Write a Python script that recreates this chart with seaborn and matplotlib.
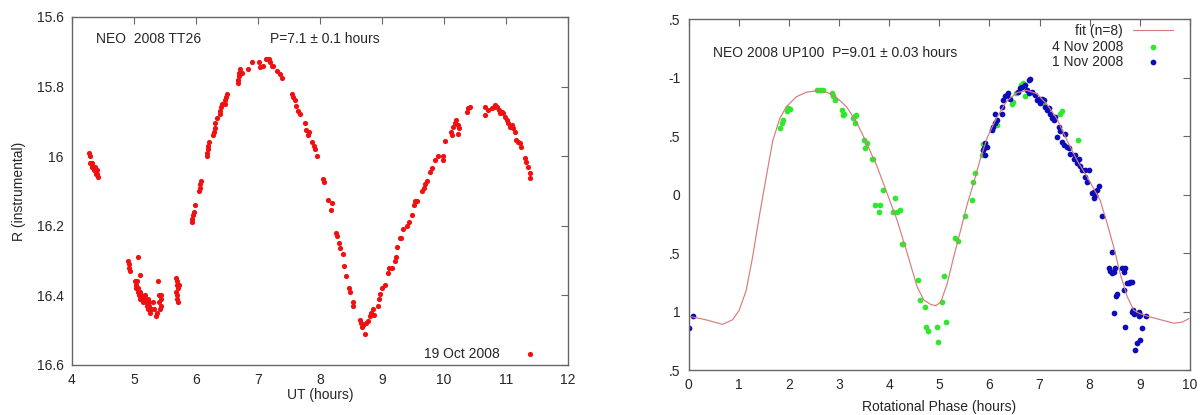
import matplotlib
matplotlib.use("Agg")
import matplotlib.pyplot as plt
import seaborn as sns

# ---------------------------------------------------------------
# NEO 2008 TT26 : instrumental R magnitude vs. UT, 19 Oct 2008
# ---------------------------------------------------------------
tt26_ut = [
    4.28, 4.29, 4.29, 4.31, 4.32, 4.33, 4.34, 4.32, 4.36, 4.37, 4.38, 4.40, 4.41, 4.42,
    4.91, 4.92, 4.92, 4.93, 5.07, 5.10, 5.02, 5.03, 5.04, 5.05, 5.06, 5.07, 5.08, 5.09,
    5.10, 5.12, 5.14, 5.15, 5.17, 5.18, 5.19, 5.21, 5.22, 5.23, 5.24, 5.25, 5.26, 5.28,
    5.30, 5.32, 5.35, 5.37, 5.39, 5.40, 5.41, 5.42, 5.43, 5.44, 5.44,
    5.68, 5.69, 5.70, 5.71, 5.68, 5.69, 5.70, 5.71, 5.72,
    5.93, 5.94, 5.95, 5.96, 5.99, 6.05, 6.06, 6.07, 6.08, 6.17, 6.18, 6.19, 6.20, 6.21,
    6.28, 6.29, 6.30, 6.31, 6.34, 6.38, 6.39, 6.40, 6.42, 6.46, 6.47, 6.49, 6.50,
    6.67, 6.68, 6.69, 6.70, 6.71, 6.73, 6.75, 6.84, 6.90, 7.01, 7.03, 7.08, 7.13, 7.15,
    7.17, 7.19, 7.22, 7.25, 7.30, 7.35, 7.38,
    7.55, 7.57, 7.59, 7.62, 7.65, 7.68, 7.76, 7.78, 7.81, 7.83, 7.87, 7.90, 7.92, 7.95,
    8.05, 8.06, 8.13, 8.17, 8.19, 8.26, 8.27, 8.31, 8.33, 8.37, 8.38, 8.42, 8.47, 8.48,
    8.53, 8.54, 8.64, 8.66, 8.67, 8.69, 8.72, 8.74, 8.78, 8.81, 8.83, 8.86, 8.87, 8.94,
    8.96, 8.97, 9.00, 9.05, 9.09, 9.12, 9.16, 9.21, 9.23, 9.24, 9.29, 9.31, 9.34, 9.40,
    9.44, 9.48, 9.51, 9.53, 9.56, 9.64, 9.67, 9.69, 9.72, 9.77, 9.80, 9.85, 9.91, 9.99,
    9.99, 10.02, 10.12, 10.13, 10.15, 10.18, 10.20, 10.22, 10.23, 10.24, 10.37, 10.39,
    10.42, 10.66, 10.66, 10.71, 10.78, 10.80, 10.82, 10.85, 10.88, 10.90, 10.93, 10.96,
    10.98, 11.01, 11.04, 11.06, 11.09, 11.12, 11.15, 11.17, 11.20, 11.23, 11.25, 11.31,
    11.33, 11.36, 11.38, 11.39,
]
tt26_r = [
    15.99, 16.00, 16.02, 16.02, 16.02, 16.03, 16.03, 16.03, 16.04, 16.03, 16.05, 16.04, 16.05, 16.06,
    16.30, 16.31, 16.32, 16.33, 16.29, 16.34, 16.36, 16.37, 16.38, 16.36, 16.39, 16.38, 16.40, 16.39,
    16.41, 16.40, 16.41, 16.42, 16.40, 16.41, 16.42, 16.43, 16.41, 16.44, 16.42, 16.43, 16.45, 16.44,
    16.42, 16.44, 16.46, 16.45, 16.36, 16.42, 16.40, 16.44, 16.41, 16.43, 16.40,
    16.35, 16.36, 16.37, 16.38, 16.39, 16.40, 16.41, 16.42, 16.37,
    16.19, 16.18, 16.17, 16.16, 16.14, 16.10, 16.09, 16.08, 16.07, 16.00, 15.99, 15.98, 15.97, 15.96,
    15.94, 15.93, 15.92, 15.905, 15.89, 15.88, 15.87, 15.86, 15.85, 15.85, 15.84, 15.83, 15.82,
    15.79, 15.78, 15.77, 15.76, 15.75, 15.76, 15.76, 15.75, 15.73, 15.73, 15.745, 15.74, 15.72, 15.72,
    15.72, 15.73, 15.74, 15.74, 15.755, 15.765, 15.775,
    15.82, 15.83, 15.84, 15.855, 15.87, 15.88, 15.905, 15.925, 15.94, 15.93, 15.96, 15.97, 15.98, 16.00,
    16.065, 16.075, 16.125, 16.155, 16.135, 16.22, 16.23, 16.25, 16.265, 16.28, 16.315, 16.345, 16.38, 16.39,
    16.42, 16.43, 16.47, 16.48, 16.49, 16.485, 16.51, 16.48, 16.475, 16.46, 16.45, 16.44, 16.455, 16.43,
    16.41, 16.395, 16.38, 16.37, 16.335, 16.32, 16.32, 16.30, 16.29, 16.26, 16.235, 16.235, 16.21, 16.20,
    16.19, 16.17, 16.14, 16.13, 16.13, 16.10, 16.09, 16.08, 16.07, 16.045, 16.035, 16.01, 16.00, 16.00,
    16.01, 15.955, 15.93, 15.94, 15.915, 15.905, 15.895, 15.91, 15.935, 15.92, 15.872, 15.862,
    15.858, 15.858, 15.882, 15.867, 15.862, 15.858, 15.853, 15.858, 15.867, 15.877, 15.872, 15.877,
    15.886, 15.896, 15.906, 15.915, 15.91, 15.92, 15.93, 15.953, 15.958, 15.963, 15.973, 16.006,
    16.016, 16.03, 16.049, 16.064,
]

# ---------------------------------------------------------------
# NEO 2008 UP100 : folded light curve with an n=8 Fourier fit
# ---------------------------------------------------------------
fit_phase = [
    0.00, 0.34, 0.68, 0.88, 1.01, 1.15, 1.28, 1.41, 1.55, 1.68, 1.82, 1.95, 2.15, 2.35,
    2.55, 2.75, 2.95, 3.15, 3.35, 3.55, 3.76, 3.96, 4.16, 4.36, 4.56, 4.69, 4.83, 4.93,
    5.03, 5.16, 5.29, 5.43, 5.56, 5.70, 5.83, 5.96, 6.15, 6.35, 6.55, 6.75, 6.95, 7.15,
    7.35, 7.55, 7.75, 7.95, 8.08, 8.21, 8.35, 8.48, 8.61, 8.75, 8.88, 9.01, 9.15, 9.41,
    9.68, 9.85, 9.98,
]
fit_mag = [
    1.04, 1.07, 1.11, 1.07, 0.99, 0.82, 0.53, 0.19, -0.15, -0.46, -0.65, -0.75, -0.835, -0.875,
    -0.886, -0.875, -0.83, -0.75, -0.62, -0.44, -0.24, -0.01, 0.22, 0.50, 0.79, 0.90, 0.94, 0.95,
    0.92, 0.76, 0.53, 0.30, 0.08, -0.12, -0.32, -0.49, -0.66, -0.80, -0.87, -0.89, -0.86, -0.77,
    -0.645, -0.46, -0.29, -0.15, -0.05, 0.05, 0.25, 0.45, 0.68, 0.875, 0.99, 1.02, 1.04, 1.07,
    1.10, 1.09, 1.06,
]

nov4_phase = [
    1.82, 1.86, 1.88, 1.96, 1.99, 2.02, 2.56, 2.63, 2.69, 2.86, 2.89, 2.92, 3.06, 3.08,
    3.11, 3.29, 3.32, 3.35, 3.32, 3.49, 3.55, 3.52, 3.65, 3.68, 3.88, 3.72, 3.82, 3.80,
    4.12, 4.08, 4.15, 4.21, 4.25, 4.28, 4.58, 4.62, 4.72, 4.74, 4.78, 4.96, 4.98, 5.05,
    5.10, 5.13, 5.31, 5.38, 5.51, 5.65, 5.68, 5.71, 5.85, 5.88, 6.15, 6.45, 6.48, 6.54,
    6.64, 6.67, 6.71, 7.07, 7.41, 7.44, 7.77,
]
nov4_mag = [
    -0.57, -0.61, -0.64, -0.71, -0.74, -0.73, -0.89, -0.89, -0.89, -0.87, -0.84, -0.81, -0.72, -0.68,
    -0.69, -0.65, -0.67, -0.68, -0.61, -0.47, -0.44, -0.40, -0.30, -0.30, -0.04, 0.09, 0.09, 0.15,
    0.03, 0.15, 0.15, 0.13, 0.42, 0.42, 0.73, 0.90, 0.96, 1.13, 1.17, 1.13, 1.26, 0.92,
    0.70, 1.09, 0.37, 0.40, 0.18, 0.05, -0.11, -0.18, -0.34, -0.43, -0.59, -0.77, -0.79, -0.87,
    -0.94, -0.95, -0.84, -0.78, -0.69, -0.71, -0.47,
]

nov1_phase = [
    0.01, 0.09, 5.88, 5.91, 5.95, 5.91, 5.89, 6.05, 6.08, 6.11, 6.15, 6.11, 6.25, 6.25,
    6.28, 6.31, 6.35, 6.38, 6.41, 6.58, 6.61, 6.65, 6.71, 6.78, 6.81, 6.75, 6.78, 6.85,
    6.91, 6.95, 6.98, 7.01, 7.05, 7.08, 7.11, 7.15, 7.18, 7.21, 7.25, 7.28, 7.31, 7.35,
    7.38, 7.41, 7.45, 7.48, 7.51, 7.55, 7.58, 7.61, 7.68, 7.71, 7.75, 7.78, 7.81, 7.85,
    7.91, 7.98, 7.91, 7.95, 8.05, 8.08, 8.11, 8.15, 8.18, 8.08, 8.25, 8.45, 8.38, 8.41,
    8.48, 8.51, 8.45, 8.65, 8.68, 8.71, 8.55, 8.53, 8.68, 8.75, 8.78, 8.81, 8.85, 8.49,
    8.71, 8.85, 8.88, 8.87, 8.98, 9.01, 8.98, 9.05, 8.91, 8.95, 9.01, 9.13,
]
nov1_mag = [
    1.145, 1.04, -0.38, -0.34, -0.41, -0.44, -0.40, -0.55, -0.58, -0.61, -0.64, -0.69, -0.69, -0.75,
    -0.81, -0.84, -0.85, -0.87, -0.82, -0.88, -0.91, -0.92, -0.94, -0.98, -0.99, -0.89, -0.87, -0.88,
    -0.85, -0.81, -0.82, -0.78, -0.82, -0.81, -0.75, -0.72, -0.74, -0.69, -0.65, -0.64, -0.66, -0.49,
    -0.58, -0.54, -0.45, -0.42, -0.52, -0.41, -0.40, -0.35, -0.30, -0.34, -0.27, -0.30, -0.24, -0.21,
    -0.21, -0.21, -0.15, -0.11, -0.01, -0.02, 0.00, -0.04, -0.07, 0.03, 0.18, 0.49, 0.63, 0.65,
    0.66, 0.63, 0.67, 0.63, 0.66, 0.63, 0.85, 0.87, 0.82, 0.76, 0.76, 0.75, 0.75, 1.01,
    1.13, 1.00, 1.02, 0.99, 1.00, 1.03, 1.04, 1.14, 1.33, 1.27, 1.24, 1.04,
]

left_yticks = [15.6, 15.8, 16.0, 16.2, 16.4, 16.6]
left_yticklabels = ["15.6", "15.8", "16", "16.2", "16.4", "16.6"]
right_yticks = [-1.5, -1.0, -0.5, 0.0, 0.5, 1.0, 1.5]
right_yticklabels = [".5", "-1", ".5", "0", ".5", "1", ".5"]

RED = "#f01010"
GREEN = "#2ee82e"
BLUE = "#0c0cb8"
FIT = "#d67c7c"
FRAME = "#666666"
INK = "#262626"

sns.set_style("white")
plt.rcParams["font.family"] = ["Liberation Sans", "DejaVu Sans"]
plt.rcParams["font.size"] = 10

fig = plt.figure(figsize=(12.02, 4.15), dpi=100)
ax1 = fig.add_axes([0.0599, 0.1205, 0.4126, 0.8386])
ax2 = fig.add_axes([0.5728, 0.1084, 0.4172, 0.8458])


def gnuplot_frame(ax):
    for sp in ax.spines.values():
        sp.set_color(FRAME)
        sp.set_linewidth(1.0)
        sp.set_visible(True)
    ax.tick_params(direction="in", length=5, width=0.8, color=FRAME,
                   top=True, right=True, labelsize=10, labelcolor=INK, pad=6)


# --- left panel ---
sns.scatterplot(x=tt26_ut, y=tt26_r, ax=ax1, color=RED, s=14, linewidth=0,
                label="19 Oct 2008")
ax1.set_xlim(4, 12)
ax1.set_ylim(16.6, 15.6)
ax1.set_xticks(range(4, 13))
ax1.set_yticks(left_yticks)
ax1.set_yticklabels(left_yticklabels)
gnuplot_frame(ax1)
ax1.set_xlabel("UT (hours)", fontsize=10, color=INK)
ax1.set_ylabel("R (instrumental)", fontsize=10, color=INK)
ax1.xaxis.set_label_coords(0.5, -0.065)
ax1.yaxis.set_label_coords(-0.093, 0.5)
ax1.text(4.39, 15.663, "NEO  2008 TT26", fontsize=10, color=INK, va="center")
ax1.text(7.19, 15.663, "P=7.1 \u00b1 0.1 hours", fontsize=10, color=INK, va="center")
ax1.legend(loc="lower right", bbox_to_anchor=(0.964, 0.012), frameon=False,
           markerfirst=False, borderpad=0, borderaxespad=0, handlelength=2.9,
           handletextpad=0.7, fontsize=10, labelcolor=INK)

# --- right panel ---
sns.lineplot(x=fit_phase, y=fit_mag, ax=ax2, sort=False, estimator=None,
             color=FIT, linewidth=0.85, label="fit (n=8)")
sns.scatterplot(x=nov4_phase, y=nov4_mag, ax=ax2, color=GREEN, s=17, linewidth=0,
                label="4 Nov 2008")
sns.scatterplot(x=nov1_phase, y=nov1_mag, ax=ax2, color=BLUE, s=17, linewidth=0,
                label="1 Nov 2008")
ax2.set_xlim(0, 10)
ax2.set_ylim(1.5, -1.5)
ax2.set_xticks(range(0, 11))
ax2.set_yticks(right_yticks)
ax2.set_yticklabels(right_yticklabels)
gnuplot_frame(ax2)
ax2.set_xlabel("Rotational Phase (hours)", fontsize=10, color=INK)
ax2.set_ylabel("")
ax2.xaxis.set_label_coords(0.5, -0.085)
ax2.text(0.49, -1.21, "NEO 2008 UP100  P=9.01 \u00b1 0.03 hours", fontsize=10,
         color=INK, va="center")
ax2.legend(loc="upper right", bbox_to_anchor=(0.966, 0.985), frameon=False,
           markerfirst=False, borderpad=0, borderaxespad=0, handlelength=2.9,
           handletextpad=0.7, labelspacing=0.1, fontsize=10, labelcolor=INK)

fig.savefig("out.png", dpi=100)
